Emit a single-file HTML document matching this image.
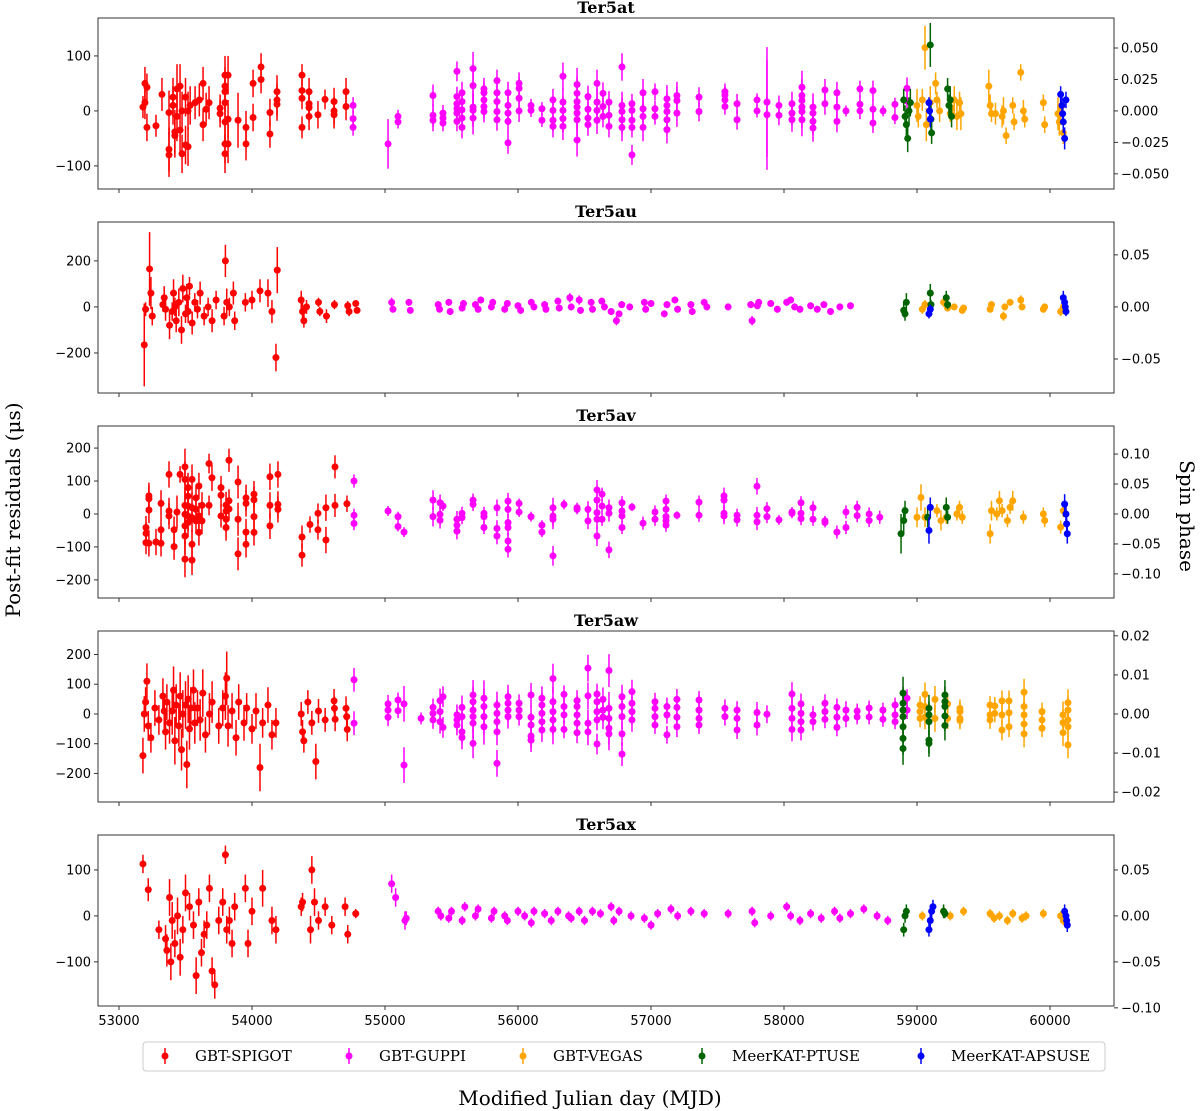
<!DOCTYPE html>
<html><head><meta charset="utf-8">
<style>
html,body{margin:0;padding:0;background:#fff;}
svg{display:block;}
text{font-family:"DejaVu Sans",sans-serif;}
.serif{font-family:"DejaVu Serif","Liberation Serif",serif;}
</style></head>
<body>
<svg id="fig" width="1200" height="1111" viewBox="0 0 1200 1111" xmlns="http://www.w3.org/2000/svg"></svg>
<script>
// ---------- data ----------
// triple format: [mjd, residual_us, error_us]
// cluster format (arrays named *C): [mjd, error_us, residual1, residual2, ...]
const panelTitles = ["Ter5at","Ter5au","Ter5av","Ter5aw","Ter5ax"];
const backends = ["GBT-SPIGOT","GBT-GUPPI","GBT-VEGAS","MeerKAT-PTUSE","MeerKAT-APSUSE"];
const colors = ["#ff0000","#ff00ff","#ffa500","#006400","#0000ff"];
const xTicks = [53000,54000,55000,56000,57000,58000,59000,60000];
const leftTicks = [[-100,0,100],[-200,0,200],[-200,-100,0,100,200],[-200,-100,0,100,200],[-100,0,100]];
const leftRange = [[-142,169],[-374,369],[-255,267],[-296,279],[-196,176]];
const rightTicks = [[-0.05,-0.025,0,0.025,0.05],[-0.05,0,0.05],[-0.1,-0.05,0,0.05,0.1],[-0.02,-0.01,0,0.01,0.02],[-0.1,-0.05,0,0.05]];
const rightLabels = [["−0.050","−0.025","0.000","0.025","0.050"],["−0.05","0.00","0.05"],["−0.10","−0.05","0.00","0.05","0.10"],["−0.02","−0.01","0.00","0.01","0.02"],["−0.10","−0.05","0.00","0.05"]];
const rightScale = [0.000437,0.000221,0.000550,0.0000761,0.000500];

const p1SpigotC=[[53180,20,7],[53195,30,15,50],[53210,25,43,-30],[53278,20,-27],[53323,30,30],[53376,40,-3,-70,-80],[53406,35,25,10],[53420,40,-45,-38],[53436,45,40,-10],[53459,40,45,-35],[53474,35,0,-78],[53500,35,25,-62],[53519,35,0,-65],[53535,35,10],[53572,30,15],[53604,30,20],[53632,30,50,-25],[53655,30,3],[53677,30,15],[53760,25,5,-5],[53797,35,65,45,35,15,-20,-60,-78],[53820,35,65,-15,-60],[53895,50,-17],[53955,30,-30,-60],[54008,25,50,-12],[54068,25,80,57],[54135,25,-3,-42],[54188,30,35,20,12],[54376,20,65,37,23,-30],[54429,25,35,13,6,-10],[54496,25,-7],[54549,18,21],[54617,25,17,0,-7],[54707,25,35,8]];
const p1GuppiC=[[54760,15,10,-14,-30],[55023,45,-60],[55098,12,-10,-20],[55361,20,28,-8,-17],[55436,15,-4,-13,-22],[55541,18,72,26,13,4,-4,-19],[55579,20,33,17,2,-13,-30],[55662,30,77,46,7,1,-13],[55744,20,40,33,20,8,-1],[55842,20,55,33,17,-1,-16],[55925,20,33,10,-4,-19,-58],[56008,20,50,41,23,0],[56098,12,10,1],[56180,12,4,-17],[56263,20,20,1,-17,-28],[56338,25,63,16,1,-14,-28],[56444,30,48,32,17,7,-4,-16,-53],[56526,20,26,3,-13,-25],[56594,25,50,16,1,-17],[56639,20,32,8,-10],[56684,20,16,-8,-28],[56782,25,80,10,-1,-16,-30],[56857,18,13,1,-17,-30,-80],[56940,25,33,4,-10,-30],[57030,15,35,4,-10],[57120,25,22,10,-1,-16,-34],[57195,25,28,19,-4],[57361,18,25,-1],[57556,15,35,29,20,8],[57647,18,13,-16],[57797,12,20,0],[57872,100,16,-7],[57962,18,10,-8],[58060,22,13,-4,-16],[58135,30,43,28,19,7,-1,-16],[58218,25,7,-4,-19,-31],[58308,20,38,13],[58398,20,33,7,-19],[58466,10,0],[58571,15,40,12,0],[58669,18,37,3,-22],[58745,10,0],[58834,12,12,-12],[58925,20,41,18]];
const p1Vegas=[[59000,10,30],[59010,-10,20],[59040,20,20],[59060,115,40],[59070,-25,30],[59100,15,30],[59140,50,20],[59150,20,15],[59170,0,20],[59250,-5,15],[59260,5,20],[59280,20,25],[59300,-10,25],[59320,15,20],[59330,-5,30],[59540,45,30],[59550,10,20],[59560,-5,15],[59590,-5,20],[59640,-10,20],[59650,0,25],[59670,-45,15],[59720,10,15],[59730,-20,15],[59780,70,15],[59800,0,20],[59810,-15,15],[59950,15,15],[59960,-25,15],[60060,-5,30],[60070,-20,25],[60080,5,20],[60100,-40,20]];
const p1Ptuse=[[58900,20,20],[58910,-10,20],[58920,-25,25],[58930,-50,25],[58940,0,25],[58950,15,25],[59100,120,40],[59105,-15,25],[59110,-40,20],[59230,40,20],[59240,10,20],[59250,20,25],[59260,-10,20]];
const p1Apsuse=[[59090,15,10],[59095,0,15],[59100,-15,15],[60080,30,15],[60090,10,15],[60095,-5,20],[60100,-20,20],[60110,-50,20],[60120,20,15]];

const p2Spigot=[[53190,-165,180],[53200,-10,30],[53230,165,160],[53240,60,70],[53250,-40,40],[53330,10,30],[53340,40,50],[53350,-10,50],[53380,-80,60],[53400,-20,40],[53410,60,60],[53420,0,40],[53430,-60,50],[53450,20,60],[53470,-100,60],[53480,80,60],[53500,-30,40],[53510,40,60],[53520,-20,50],[53530,90,40],[53550,-70,50],[53570,20,40],[53590,-10,40],[53610,60,50],[53640,-40,40],[53670,0,40],[53700,-60,50],[53730,30,40],[53790,-40,40],[53800,200,70],[53810,20,60],[53830,0,40],[53860,60,50],[53870,-60,40],[53950,20,40],[54000,30,40],[54060,70,50],[54120,60,60],[54150,-20,50],[54180,-220,60],[54190,160,100],[54370,30,40],[54380,-20,40],[54390,-60,30],[54410,0,30],[54500,20,20],[54510,-20,20],[54560,-40,30],[54620,10,20],[54720,5,20],[54730,-20,20],[54780,15,10],[54790,-15,10]];
const p2Guppi=[[55050,20,20],[55060,-10,15],[55180,20,15],[55190,-15,10],[55400,10,15],[55410,-10,10],[55480,20,15],[55490,-20,15],[55580,-5,15],[55590,15,15],[55680,10,15],[55700,-10,15],[55720,30,15],[55800,0,15],[55810,20,15],[55900,-10,15],[55920,15,15],[56000,5,15],[56020,-15,15],[56100,20,15],[56120,0,15],[56200,10,15],[56210,-10,15],[56300,25,15],[56310,-5,15],[56390,40,20],[56400,0,15],[56460,30,20],[56470,-15,15],[56550,20,15],[56560,-10,15],[56630,25,15],[56650,0,15],[56700,-20,15],[56740,-60,20],[56760,-30,15],[56780,10,15],[56840,0,15],[56950,20,15],[56960,-10,15],[57000,15,15],[57100,-30,15],[57120,10,15],[57180,30,15],[57200,-10,15],[57300,10,15],[57310,-20,15],[57400,20,15],[57420,0,15],[57580,0,15],[57750,10,15],[57760,-60,20],[57800,5,15],[57810,20,15],[57900,15,15],[57950,-10,15],[58020,20,15],[58050,30,15],[58080,0,15],[58120,-10,15],[58200,5,15],[58250,-10,15],[58300,10,15],[58350,-20,15],[58420,0,15],[58500,5,15]];
const p2Vegas=[[59040,-10,20],[59060,10,20],[59200,20,20],[59230,-5,15],[59280,0,15],[59340,-15,15],[59350,-5,15],[59550,-10,15],[59560,10,15],[59650,-40,20],[59660,0,15],[59700,20,15],[59780,30,20],[59790,0,15],[59950,-10,15],[59960,0,15],[60080,-20,20],[60100,0,15]];
const p2Ptuse=[[58900,-15,30],[58910,-30,30],[58920,20,40],[59100,60,40],[59105,10,20],[59220,40,30],[59230,10,20]];
const p2Apsuse=[[59090,-30,20],[59100,-10,20],[60100,40,30],[60110,20,20],[60115,0,20],[60120,-20,20]];

const p3SpigotC=[[53203,35,-41,-59,-87],[53225,40,55,46,12,-89],[53278,40,-85],[53316,40,32,-48,-89],[53376,40,120,9,-6],[53414,40,-48,-99],[53436,50,6],[53459,25,120],[53496,55,143,105,26,-1,-36,-67,-137],[53519,45,80,54,24,-6,-26],[53549,45,105,19,-11,-92,-140],[53579,40,49,14,-21],[53601,40,85,-6,-56],[53624,40,26,-21],[53677,30,153,26],[53699,40,110],[53767,35,80,57,-6],[53805,40,27,9,-16,-41],[53827,35,163,40,15],[53895,50,97,-16,-121],[53955,40,49,32,-55,-92],[54015,40,60,43,-8,-56],[54135,40,113,26,-36],[54195,40,120,29,14],[54376,35,-70,-125],[54436,25,-32],[54496,30,2,-48],[54556,40,19,-79],[54624,35,143,26],[54714,25,31]];
const p3GuppiC=[[54767,20,100,-4,-29],[55023,15,9],[55098,15,-8,-38],[55143,15,-55],[55361,30,42,-8],[55414,25,34,-1,-19],[55436,15,24],[55541,25,-16,-34,-52],[55579,20,2,-11],[55662,20,42,29],[55744,20,2,-8,-41],[55842,25,19,-44,-67],[55925,25,39,14,-26,-41,-82,-107],[56008,15,32,6],[56098,15,-8],[56180,15,-34,-55],[56263,30,19,-6,-16,-127],[56346,15,29],[56444,15,19,14],[56526,25,14,-21],[56594,30,73,42,4,-16,-67],[56632,20,60,24,-16],[56684,25,19,2,-109],[56782,20,34,9,-6,-41],[56857,12,21],[56940,20,-28],[57030,20,6,-16],[57113,20,39,14,-8,-21,-34],[57195,12,-4],[57361,20,36,-4],[57549,25,55,42,2,-6],[57647,20,-4,-18],[57797,25,84,-4,-24],[57872,20,16,-8],[57962,15,-18],[58060,15,6,2],[58128,20,34,2,-14],[58218,20,19,-16],[58308,15,-21,-26],[58398,20,-55],[58466,20,6,-41],[58550,20,20,-5],[58640,20,0,-20],[58720,20,-10]];
const p3Vegas=[[59000,-10,30],[59030,50,40],[59060,-10,30],[59100,20,30],[59150,10,20],[59180,-20,30],[59220,-10,20],[59300,0,20],[59320,20,20],[59340,-10,20],[59550,-60,30],[59560,10,30],[59600,0,20],[59620,40,30],[59640,10,20],[59680,-20,20],[59700,20,20],[59720,40,30],[59800,-10,20],[59950,0,20],[59960,-20,20],[60080,-40,20],[60100,10,20]];
const p3Ptuse=[[58880,-60,60],[58900,-20,40],[58910,10,30],[59080,-10,30],[59220,20,30],[59230,-10,20]];
const p3Apsuse=[[59090,-50,40],[59100,20,30],[60110,30,30],[60120,0,30],[60125,-30,30],[60130,-60,30]];

const p4Spigot=[[53180,-140,60],[53190,0,60],[53200,40,50],[53210,110,60],[53220,-40,50],[53240,-80,50],[53270,20,60],[53300,-20,50],[53330,60,60],[53340,10,60],[53350,-60,60],[53360,40,60],[53380,-30,70],[53400,10,80],[53410,80,80],[53420,-90,80],[53430,30,70],[53450,-40,70],[53460,60,80],[53470,-120,70],[53480,0,80],[53500,30,80],[53510,-170,80],[53520,50,80],[53530,-50,70],[53540,20,70],[53560,80,70],[53570,-30,70],[53590,20,60],[53610,-20,70],[53630,70,80],[53650,-70,60],[53680,0,70],[53700,40,70],[53750,-40,60],[53780,20,60],[53800,60,80],[53810,120,90],[53820,-40,70],[53850,10,60],[53880,-80,60],[53900,40,60],[53940,-30,60],[53960,20,50],[54000,-50,50],[54030,10,60],[54060,-180,80],[54080,-30,50],[54120,30,60],[54150,-70,50],[54180,-30,50],[54370,0,40],[54380,-60,40],[54390,-90,40],[54420,40,40],[54450,-30,40],[54480,-160,60],[54500,10,40],[54550,-20,40],[54617,44,40],[54620,19,40],[54625,-18,40],[54707,19,40],[54712,-9,40],[54716,-52,40]];
const p4GuppiC=[[54767,40,115,-31],[55023,30,34,13,-11],[55098,25,47,11],[55143,60,34,-172],[55271,20,-15],[55361,30,22,2,-20],[55414,40,45,8,-26],[55436,35,58,-45],[55541,35,-3,-20,-37],[55579,40,22,-9,-60,-79],[55662,50,64,41,13,-9,-31,-99],[55744,60,53,25,-9,-43],[55842,45,30,2,-26,-60,-166],[55925,40,58,36,13,-9],[56008,30,36,13,-9],[56098,40,64,-11,-37,-74,-88],[56180,40,53,30,2,-26,-54],[56263,50,119,41,8,-20,-52],[56346,30,66,25,-3,-52],[56444,35,45,25,-3,-31,-63],[56526,45,154,61,-31,-60],[56594,35,67,41,8,-20,-101],[56639,40,49,13,-11],[56684,55,146,19,-15,-48,-67],[56782,40,58,25,-9,-67,-135],[56857,40,75,36,8,-20],[57030,30,41,19,-9,-37],[57120,30,25,-3,-70],[57195,35,49,22,-11,-43],[57361,30,47,13,-15,-37],[57556,30,19,-9],[57647,30,13,-15,-54],[57797,35,5,-37],[57872,30,-1],[58060,40,67,19,-15,-52],[58128,35,34,2,-26,-54],[58218,30,-3,-26],[58308,30,36,8,-18],[58398,30,22,-11,-45],[58466,30,13,-15],[58550,25,10,-10],[58640,25,20,-10],[58744,25,13,-18],[58835,25,30,-3,-26],[58925,30,53,13]];
const p4VegasC=[[59023,30,30,8,-15],[59060,40,66,25,-11],[59135,45,49,-15],[59230,35,34,-15],[59323,30,19,8,-15,-22],[59549,30,30,-3,-20],[59585,30,27,2],[59639,35,44,-3,-54],[59692,35,44,4,-43],[59805,45,73,25,-3,-34,-67],[59940,30,8,-20,-48],[60098,45,-3,-29,-63],[60135,45,38,13,-20,-43,-104]];
const p4PtuseC=[[58895,55,70,36,13,-9,-43,-82,-116],[59090,45,19,-3,-26,-88,-99],[59210,50,64,42,25,-7,-39]];

const p5Spigot=[[53180,113,20],[53220,57,25],[53300,-30,20],[53350,-50,30],[53360,-75,35],[53380,40,40],[53390,-100,40],[53400,-10,40],[53420,-60,30],[53440,0,40],[53460,-90,40],[53480,-30,30],[53500,50,40],[53530,20,30],[53560,-20,30],[53580,-130,40],[53600,30,30],[53620,-80,30],[53640,-40,30],[53660,-20,30],[53680,60,30],[53700,-120,30],[53720,-150,30],[53750,-10,30],[53780,30,30],[53800,133,20],[53810,-30,30],[53830,-10,30],[53850,-60,30],[53870,20,30],[53950,60,30],[53970,-60,30],[54000,10,30],[54080,60,40],[54150,-10,30],[54180,-30,30],[54370,20,20],[54380,30,20],[54440,-30,30],[54450,100,30],[54470,30,30],[54500,-10,20],[54550,20,20],[54600,-20,20],[54700,20,20],[54720,-40,20],[54780,5,10]];
const p5Guppi=[[55050,70,20],[55080,40,20],[55150,-10,20],[55160,-5,15],[55400,10,10],[55420,0,10],[55480,-5,10],[55500,10,10],[55580,-10,10],[55600,20,10],[55680,0,10],[55700,15,10],[55800,-5,10],[55820,10,10],[55900,0,10],[55920,-10,10],[56000,10,10],[56050,0,10],[56100,-15,10],[56120,10,10],[56200,5,10],[56250,-10,10],[56300,10,10],[56380,0,10],[56400,-5,10],[56460,10,10],[56500,-10,10],[56560,10,10],[56620,5,10],[56700,20,10],[56720,-10,10],[56760,10,10],[56850,0,10],[56950,-5,10],[57000,-20,10],[57050,5,10],[57150,15,10],[57200,0,10],[57300,10,10],[57400,5,10],[57580,5,10],[57760,10,10],[57780,-15,10],[57900,0,10],[58020,20,10],[58050,0,10],[58120,-10,10],[58200,5,10],[58280,-5,10],[58380,10,10],[58420,-5,10],[58500,5,10],[58600,15,10],[58700,0,10],[58780,-10,10]];
const p5Vegas=[[59040,0,10],[59200,10,10],[59250,0,10],[59350,10,10],[59550,5,10],[59580,-5,10],[59620,0,10],[59680,-10,10],[59720,5,10],[59790,-5,10],[59820,0,10],[59950,5,10],[60080,0,10],[60100,-10,10]];
const p5Ptuse=[[58900,-30,15],[58910,0,15],[58920,10,15],[59200,10,15],[59210,5,10]];
const p5Apsuse=[[59090,-30,15],[59100,-10,15],[59110,10,15],[59120,20,15],[60110,10,15],[60120,0,15],[60125,-10,15],[60130,-20,15]];

function expand(c){const out=[];for(const r of c){for(let i=2;i<r.length;i++)out.push([r[0],r[i],r[1]]);}return out;}

const panelSeries = [
  [expand(p1SpigotC),expand(p1GuppiC),p1Vegas,p1Ptuse,p1Apsuse],
  [p2Spigot,p2Guppi,p2Vegas,p2Ptuse,p2Apsuse],
  [expand(p3SpigotC),expand(p3GuppiC),p3Vegas,p3Ptuse,p3Apsuse],
  [p4Spigot,expand(p4GuppiC),expand(p4VegasC),expand(p4PtuseC),[]],
  [p5Spigot,p5Guppi,p5Vegas,p5Ptuse,p5Apsuse]
];

// ---------- layout ----------
const NS="http://www.w3.org/2000/svg";
const svg=document.getElementById('fig');
const L=98,R=1114;
const tops=[18,222,426,631,835], bots=[189,393,598,802,1006];
function xs(v){return 119+(v-53000)*0.1330;}
function mk(tag,attrs,parent){const e=document.createElementNS(NS,tag);for(const k in attrs)e.setAttribute(k,attrs[k]);(parent||svg).appendChild(e);return e;}

for(let p=0;p<5;p++){
  const t=tops[p],b=bots[p];
  const lo=leftRange[p][0],hi=leftRange[p][1];
  const ys=v=>b-(v-lo)/(hi-lo)*(b-t);
  const g=mk('g',{});
  
  
  const title=mk('text',{x:(L+R)/2,y:t-5,'text-anchor':'middle','font-size':'16','font-weight':'bold','class':'serif'},g);
  title.textContent=panelTitles[p];
  
  
  for(let s=0;s<5;s++){
    const sg=mk('g',{},g);
    
    
    for(const d of panelSeries[p][s]){
      const x=xs(d[0]);
      const ln=mk('line',{x1:x,x2:x,y1:Math.min(b,ys(d[1]-d[2])),y2:Math.max(t,ys(d[1]+d[2])),stroke:colors[s],'stroke-width':1.5},sg);
      
      
      const c=mk('circle',{cx:x,cy:ys(d[1]),r:3.5,fill:colors[s]},sg);
      
      
    }
  }
  const fr=mk('rect',{x:L,y:t,width:R-L,height:b-t,fill:'none',stroke:'#333','stroke-width':1},g);
  
  
  for(const v of leftTicks[p]){
    const y=ys(v);
    mk('line',{x1:L-4,x2:L,y1:y,y2:y,stroke:'#333'},g);
    const tx=mk('text',{x:L-7,y:y+4.5,'text-anchor':'end','font-size':'13'},g);
    tx.textContent=v<0?'−'+Math.abs(v):String(v);
    
    
  }
  rightTicks[p].forEach((v,i)=>{
    const y=ys(v/rightScale[p]);
    mk('line',{x1:R,x2:R+4,y1:y,y2:y,stroke:'#333'},g);
    const tx=mk('text',{x:R+7,y:y+4.5,'text-anchor':'start','font-size':'13'},g);
    tx.textContent=rightLabels[p][i];
    
    
  });
  for(const v of xTicks){
    const x=xs(v);
    mk('line',{x1:x,x2:x,y1:b,y2:b+4,stroke:'#333'},g);
    if(p===4){
      const tx=mk('text',{x:x,y:b+19,'text-anchor':'middle','font-size':'13'},g);
      tx.textContent=String(v);
      
      
    }
  }
}
let a=mk('text',{x:0,y:0,transform:'translate(20,510) rotate(-90)','text-anchor':'middle','font-size':'20','class':'serif'});
a.textContent='Post-fit residuals (μs)';


a=mk('text',{x:0,y:0,transform:'translate(1180,516) rotate(90)','text-anchor':'middle','font-size':'20','class':'serif'});
a.textContent='Spin phase';


a=mk('text',{x:590,y:1105,'text-anchor':'middle','font-size':'20','class':'serif'});
a.textContent='Modified Julian day (MJD)';


const lg=mk('g',{});


mk('rect',{x:143,y:1042,width:962,height:29,rx:3,fill:'#fff',stroke:'#ccc'},lg);
const legX=[165,349,523,702,921];
backends.forEach((n,i)=>{
  const eg=mk('g',{},lg);
  
  
  mk('line',{x1:legX[i],x2:legX[i],y1:1048,y2:1064,stroke:colors[i],'stroke-width':1.5},eg);
  mk('circle',{cx:legX[i],cy:1056,r:3.5,fill:colors[i]},eg);
  const tx=mk('text',{x:legX[i]+30,y:1061,'font-size':'15','class':'serif'},eg);
  tx.textContent=n;
});
</script>
</body></html>
